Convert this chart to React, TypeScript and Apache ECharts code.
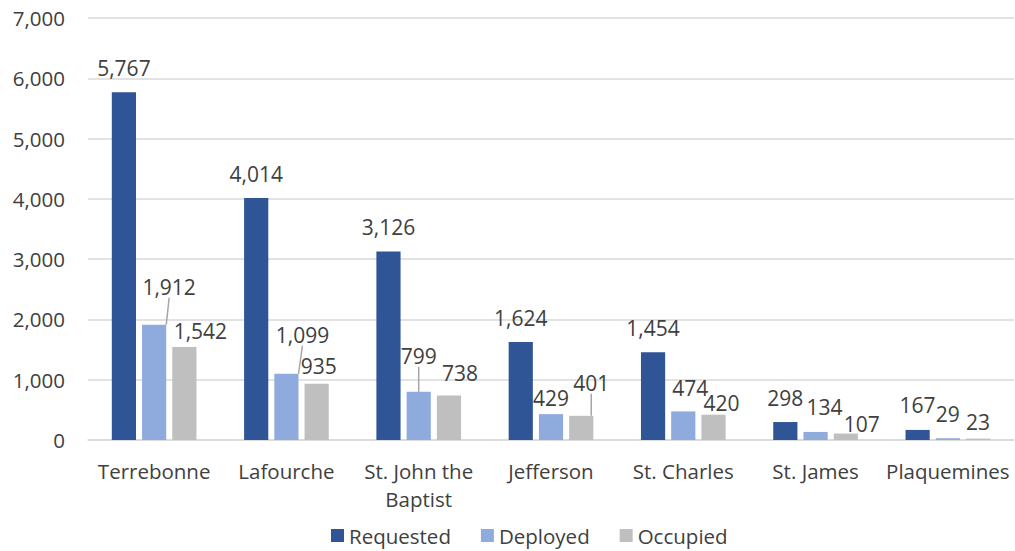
import React, { useEffect, useRef } from "react";
import * as echarts from "echarts";

const categories = ["Terrebonne", "Lafourche", "St. John the\nBaptist", "Jefferson", "St. Charles", "St. James", "Plaquemines"];
const requested = [5767, 4014, 3126, 1624, 1454, 298, 167];
const deployed = [1912, 1099, 799, 429, 474, 134, 29];
const occupied = [1542, 935, 738, 401, 420, 107, 23];
const seriesNames = ["Requested", "Deployed", "Occupied"];
const colors = ["#2F5597", "#8FAADC", "#BFBFBF"];

const fmt = (v: number) => v.toLocaleString("en-US");

// label nudges (dx, dy, leader line) per series / category index
const labelShift: Record<string, [number, number, boolean]> = {
  "Deployed-0": [15, -13, true],
  "Occupied-0": [16, 8, false],
  "Deployed-1": [16, -14, true],
  "Occupied-1": [2, 7, false],
  "Deployed-2": [0, -11, true],
  "Occupied-2": [11, 2, false],
  "Deployed-3": [0, 8, false],
  "Occupied-3": [10, -8, true],
  "Deployed-4": [7, 1, false],
  "Occupied-4": [8, 13, false],
  "Deployed-5": [9, 0, false],
  "Occupied-5": [16, 15, false],
  "Occupied-6": [0, 8, false],
};

export default function App() {
  const ref = useRef<HTMLDivElement>(null);
  useEffect(() => {
    document.body.style.margin = "0";
    const chart = echarts.init(ref.current!, null, { renderer: "svg" });
    const font = "'Open Sans', 'Liberation Sans', sans-serif";
    const mk = (name: string, data: number[], color: string) => ({
      name,
      type: "bar",
      data: data.map((v, i) => {
        const s = labelShift[`${name}-${i}`];
        return s && s[2] ? { value: v, labelLine: { show: true } } : v;
      }),
      itemStyle: { color },
      barGap: "25%",
      barCategoryGap: "36%",
      label: {
        show: true,
        position: "top",
        distance: 14,
        color: "#404040",
        fontSize: 21,
        fontFamily: font,
        formatter: (p: any) => fmt(p.value),
      },
      labelLine: { show: false, lineStyle: { color: "#A6A6A6", width: 1.5 }, length2: 0 },
      labelLayout: (params: any) => {
        const s = labelShift[`${name}-${params.dataIndex}`];
        if (!s) return {};
        return { dx: s[0], dy: s[1] };
      },
    });
    chart.setOption({
      animation: false,
      textStyle: { fontFamily: font },
      grid: { left: 88, right: 1, top: 18, bottom: 111 },
      legend: {
        bottom: 0,
        left: 326,
        itemWidth: 13,
        itemHeight: 13,
        itemGap: 30,
        icon: "rect",
        textStyle: { fontSize: 20.5, color: "#404040", fontFamily: font },
        data: seriesNames,
      },
      xAxis: {
        type: "category",
        data: categories,
        axisTick: { show: false },
        axisLine: { lineStyle: { color: "#D9D9D9", width: 1.5 } },
        axisLabel: { interval: 0, fontSize: 20.5, color: "#404040", margin: 17, lineHeight: 28, fontFamily: font },
      },
      yAxis: {
        type: "value",
        min: 0,
        max: 7000,
        interval: 1000,
        axisLabel: { fontSize: 20.5, color: "#404040", margin: 23, fontFamily: font, formatter: (v: number) => fmt(v) },
        splitLine: { lineStyle: { color: "#D9D9D9", width: 1.5 } },
        axisLine: { show: false },
        axisTick: { show: false },
      },
      series: [
        mk(seriesNames[0], requested, colors[0]),
        mk(seriesNames[1], deployed, colors[1]),
        mk(seriesNames[2], occupied, colors[2]),
      ],
    });
    return () => chart.dispose();
  }, []);
  return <div ref={ref} style={{ width: 1015, height: 551 }} />;
}
